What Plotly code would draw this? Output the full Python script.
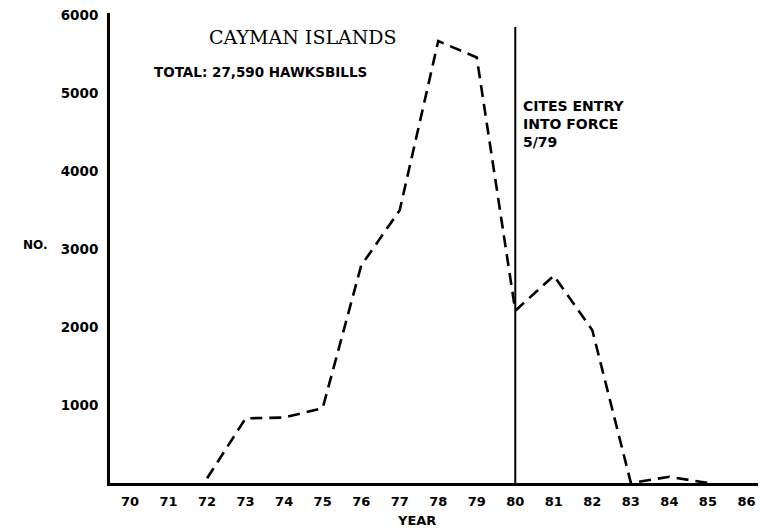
import plotly.graph_objects as go

years = [72, 73, 74, 75, 76, 77, 78, 79, 80, 81, 82, 83, 84, 85]
counts = [60, 830, 840, 960, 2790, 3500, 5670, 5460, 2210, 2660, 1960, 0, 80, 0]

cites_year = [80, 80]
cites_span = [0, 5850]

x_ticks = list(range(70, 87))
y_ticks = [1000, 2000, 3000, 4000, 5000, 6000]

title_text = "CAYMAN ISLANDS"
total_text = "TOTAL: 27,590 HAWKSBILLS"
cites_text = "CITES ENTRY<br>INTO FORCE<br>5/79"

bold = "DejaVu Sans"

fig = go.Figure()
fig.add_trace(go.Scatter(
    x=years, y=counts, mode="lines",
    line=dict(color="black", width=2.6, dash="12px,7px"),
    hoverinfo="skip", showlegend=False))
fig.add_trace(go.Scatter(
    x=cites_year, y=cites_span, mode="lines",
    line=dict(color="black", width=2),
    hoverinfo="skip", showlegend=False))

L, R, T, B = 110, 758, 13, 483
PW, PH = R - L, B - T


def px(x):
    return (x - L) / PW


def py(y):
    return (B - y) / PH


def note(text, x, y, size, family=bold, xanchor="center", yanchor="middle"):
    return dict(text=text, xref="paper", yref="paper", x=px(x), y=py(y),
                xanchor=xanchor, yanchor=yanchor, align="left", showarrow=False,
                font=dict(family=family, size=size, color="black"))


fig.update_layout(
    width=760, height=531,
    margin=dict(l=L, r=760 - R, t=T, b=531 - B),
    paper_bgcolor="white", plot_bgcolor="white",
    font=dict(family=bold, color="black"),
    xaxis=dict(
        range=[69.48, 86.3], tickvals=x_ticks, ticktext=["<b>%d</b>" % v for v in x_ticks],
        showgrid=False, zeroline=False, showline=True, linecolor="black", linewidth=3,
        ticks="outside", ticklen=4, tickcolor="rgba(0,0,0,0)", automargin=False,
        tickfont=dict(family=bold, size=13, color="black"),
    ),
    yaxis=dict(
        range=[0, 6030], tickvals=y_ticks, ticktext=["<b>%d</b>" % v for v in y_ticks],
        showgrid=False, zeroline=False, showline=True, linecolor="black", linewidth=3,
        ticks="outside", ticklen=6, tickcolor="rgba(0,0,0,0)", automargin=False,
        tickfont=dict(family=bold, size=13.5, color="black"),
    ),
    annotations=[
        note(title_text, 303, 37, 19, family="DejaVu Serif"),
        note("<b>" + total_text + "</b>", 152, 72, 13.5, xanchor="left"),
        note("<b>" + cites_text + "</b>", 521, 96, 14, xanchor="left", yanchor="top"),
        note("<b>NO.</b>", 21, 245, 12, xanchor="left"),
        note("<b>YEAR</b>", 416, 520, 13),
    ],
)

fig.write_html("out.html", config={"displayModeBar": False},
               post_script="document.body.style.margin='0';")
